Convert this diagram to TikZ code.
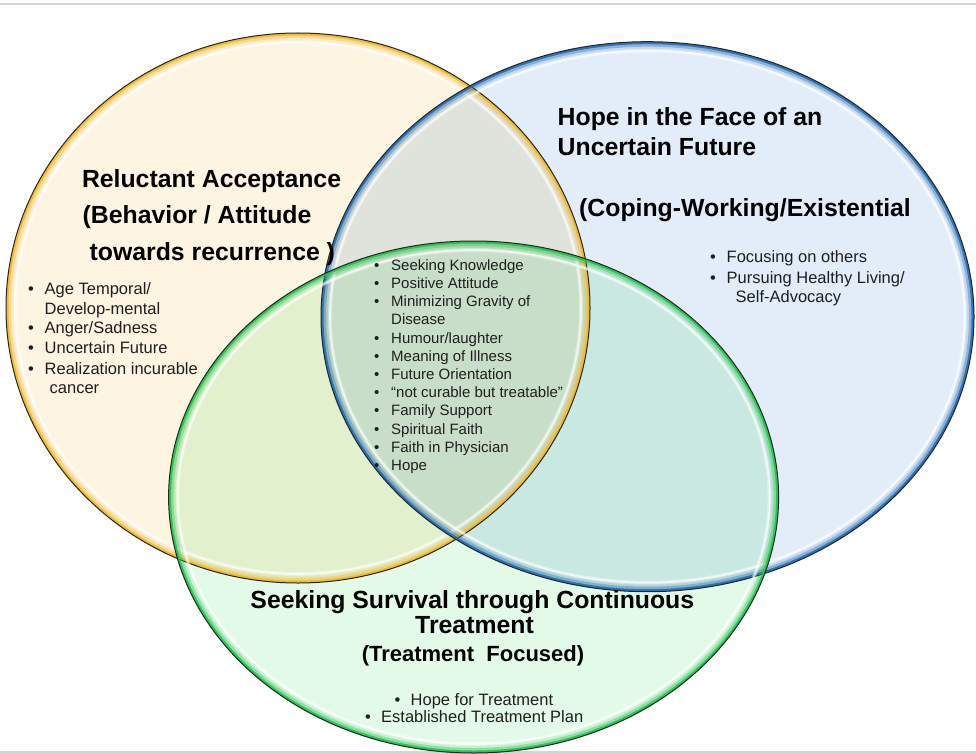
\documentclass[tikz,border=0pt]{standalone}
\usepackage{fontspec}
\setmainfont{Liberation Sans}
\definecolor{yfill}{RGB}{253,245,226}
\definecolor{bfill}{RGB}{226,237,249}
\definecolor{gfill}{RGB}{228,250,232}
\definecolor{yrim}{RGB}{240,184,48}
\definecolor{brim}{RGB}{38,108,176}
\definecolor{grim}{RGB}{38,192,78}
\definecolor{rule}{RGB}{212,212,212}
\begin{document}
\begin{tikzpicture}[x=1pt,y=-1pt,
  ttl/.style={font=\bfseries\fontsize{24.8}{28}\selectfont, anchor=base west, inner sep=0pt},
  sub/.style={font=\bfseries\fontsize{22}{26}\selectfont, anchor=base, inner sep=0pt},
  lst/.style={font=\fontsize{16.5}{19}\selectfont, anchor=base west, inner sep=0pt, text=black!88},
  cls/.style={font=\fontsize{15}{18}\selectfont, anchor=base west, inner sep=0pt, text=black!88},
  outline/.style={draw=black!85, line width=1pt}]
\useasboundingbox (0,0) rectangle (976,754);

% centres of the three sets
\coordinate (yc) at (298,308);
\coordinate (bc) at (647.5,316.7);
\coordinate (gc) at (473.6,497);

% thin rules above and below
\coordinate (tl) at (0,4);  \coordinate (tr) at (976,4);
\coordinate (bl) at (0,752); \coordinate (br) at (976,752);
\draw[rule, line width=2pt] (tl) -- (tr);
\draw[rule, line width=3pt] (bl) -- (br);

% translucent fills, multiplied so the overlaps darken
\begin{scope}[blend mode=multiply]
  \fill[yfill] (yc) ellipse [x radius=292, y radius=275];
  \fill[bfill] (bc) ellipse [x radius=326.5, y radius=275];
  \fill[gfill] (gc) ellipse [x radius=305, y radius=256];
\end{scope}

% bevelled rims: coloured band fading inwards, soft white glint, dark edge
\foreach \cx/\cy/\rx/\ry/\col in {298/308/292/275/yrim, 647.5/316.7/326.5/275/brim, 473.6/497/305/256/grim}{
  \begin{scope}
    \clip (\cx,\cy) ellipse [x radius=\rx, y radius=\ry];
    \draw[\col, opacity=.15, line width=16pt] (\cx,\cy) ellipse [x radius=\rx, y radius=\ry];
    \draw[\col, opacity=.35, line width=10pt] (\cx,\cy) ellipse [x radius=\rx, y radius=\ry];
    \draw[\col, opacity=.9, line width=5pt] (\cx,\cy) ellipse [x radius=\rx, y radius=\ry];
    \draw[white, opacity=.35, line width=4pt] (\cx,\cy) ellipse [x radius=\rx-9, y radius=\ry-9];
    \draw[white, opacity=.6, line width=1.6pt] (\cx,\cy) ellipse [x radius=\rx-9, y radius=\ry-9];
  \end{scope}
  \draw[outline] (\cx,\cy) ellipse [x radius=\rx, y radius=\ry];
}

% Reluctant Acceptance
\node[ttl] (yt1) at (81.8,187) {Reluctant Acceptance};
\node[ttl] (yt2) at (82.5,223.3) {(Behavior / Attitude};
\node[ttl] (yt3) at (89.5,260) {towards recurrence )};
\node[lst] (yl1) at (28,294) {\makebox[16.5pt][l]{•}Age Temporal/};
\node[lst] (yl2) at (44.5,314) {Develop-mental};
\node[lst] (yl3) at (28,333.5) {\makebox[16.5pt][l]{•}Anger/Sadness};
\node[lst] (yl4) at (28,353.5) {\makebox[16.5pt][l]{•}Uncertain Future};
\node[lst] (yl5) at (28,374) {\makebox[16.5pt][l]{•}Realization incurable};
\node[lst] (yl6) at (49.5,393) {cancer};

% Hope in the Face of an Uncertain Future
\node[ttl] (bt1) at (557.5,125.3) {Hope in the Face of an};
\node[ttl] (bt2) at (557.5,155.3) {Uncertain Future};
\node[ttl] (bt3) at (579,216) {(Coping-Working/Existential};
\node[lst] (bl1) at (710,262.7) {\makebox[16.5pt][l]{•}Focusing on others};
\node[lst] (bl2) at (710,283.3) {\makebox[16.5pt][l]{•}Pursuing Healthy Living/};
\node[lst] (bl3) at (735.5,302.7) {Self-Advocacy};

% shared by all three
\node[cls] (c1)  at (374,270)   {\makebox[17pt][l]{•}Seeking Knowledge};
\node[cls] (c2)  at (374,288.3) {\makebox[17pt][l]{•}Positive Attitude};
\node[cls] (c3)  at (374,306.7) {\makebox[17pt][l]{•}Minimizing Gravity of};
\node[cls] (c4)  at (391,324)   {Disease};
\node[cls] (c5)  at (374,343.3) {\makebox[17pt][l]{•}Humour/laughter};
\node[cls] (c6)  at (374,361.3) {\makebox[17pt][l]{•}Meaning of Illness};
\node[cls] (c7)  at (374,379.3) {\makebox[17pt][l]{•}Future Orientation};
\node[cls] (c8)  at (374,397.7) {\makebox[17pt][l]{•}“not curable but treatable”};
\node[cls] (c9)  at (374,415.7) {\makebox[17pt][l]{•}Family Support};
\node[cls] (c10) at (374,434)   {\makebox[17pt][l]{•}Spiritual Faith};
\node[cls] (c11) at (374,452)   {\makebox[17pt][l]{•}Faith in Physician};
\node[cls] (c12) at (374,470.7) {\makebox[17pt][l]{•}Hope};

% Seeking Survival through Continuous Treatment
\node[ttl, anchor=base] (gt1) at (472.3,608.3) {Seeking Survival through Continuous};
\node[ttl, anchor=base] (gt2) at (474.5,633.3) {Treatment};
\node[sub] (gt3) at (473,661) {(Treatment\ \ Focused)};
\node[lst] (gl1) at (394.5,705)   {\makebox[16pt][l]{•}Hope for Treatment};
\node[lst] (gl2) at (365,722.7) {\makebox[16pt][l]{•}Established Treatment Plan};
\end{tikzpicture}
\end{document}
